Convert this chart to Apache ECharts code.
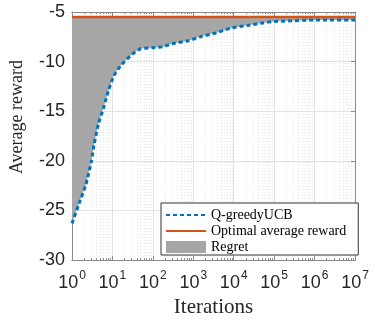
<!DOCTYPE html>
<html>
<head>
<meta charset="utf-8">
<script src="https://cdn.jsdelivr.net/npm/echarts@6/dist/echarts.min.js"></script>
<style>
  html, body { margin: 0; padding: 0; background: #fff; }
  #chart { width: 382px; height: 323px; }
</style>
</head>
<body>
<div id="chart"></div>
<script>
// data
var iterations = [1, 1.5, 2.2, 3, 3.5, 4.5, 6, 8, 11, 17, 30, 50, 100, 180, 300, 750, 1500, 3700, 9000, 22000, 53000, 1e5, 2.2e5, 1e6, 1e7];
var avgReward = [-26.3, -24.3, -22.4, -20.1, -18.4, -16.3, -14.7, -12.9, -11.4, -10.3, -9.3, -8.7, -8.6, -8.5, -8.2, -7.9, -7.5, -7.1, -6.6, -6.35, -6.1, -5.95, -5.9, -5.8, -5.8];
var optimalReward = -5.5;
var majorTicks = [1, 10, 100, 1e3, 1e4, 1e5, 1e6, 1e7];
var minorTicks = [];
for (var k = 0; k < 7; k++) {
  for (var m = 2; m <= 9; m++) minorTicks.push(m * Math.pow(10, k));
}

var serif = "Liberation Serif";
var sans = "Liberation Sans";

var curve = iterations.map(function (x, i) { return [x, avgReward[i]]; });
var optimal = iterations.map(function (x) { return [x, optimalReward]; });

var chart = echarts.init(document.getElementById("chart"));

function xAxisCfg(pos, ticks, len, labels, split) {
  return {
    type: "log", logBase: 10, min: 1, max: 1e7, position: pos,
    axisLine: { show: true, lineStyle: { color: "#8a8a8a", width: 1 } },
    axisTick: { show: true, inside: true, length: len, customValues: ticks,
      lineStyle: { color: "#8a8a8a" } },
    axisLabel: labels ? {
      show: true, margin: 6, customValues: majorTicks,
      formatter: function (v) { return "{b|10}{s|" + Math.round(Math.log10(v)) + "}"; },
      rich: {
        b: { fontSize: 18, fontFamily: sans, color: "#262626", lineHeight: 26, verticalAlign: "bottom" },
        s: { fontSize: 12, fontFamily: sans, color: "#262626", lineHeight: 12, verticalAlign: "top", padding: [4, 0, 0, 1] }
      }
    } : { show: false },
    splitLine: split || { show: false },
    minorTick: { show: false },
    name: labels ? "Iterations" : "",
    nameLocation: "middle", nameGap: 33,
    nameTextStyle: { fontFamily: serif, fontSize: 21, color: "#262626" }
  };
}

var option = {
  animation: false,
  grid: { left: 53, right: 27, top: 12, bottom: 54 },
  xAxis: [
    xAxisCfg("bottom", majorTicks, 4, true,
      { show: true, lineStyle: { color: "#e2e2e2", width: 1 } }),
    xAxisCfg("bottom", minorTicks, 2, false,
      { show: true, lineStyle: { color: "#e4e4e4", width: 1, type: [1, 2] } }),
    xAxisCfg("top", majorTicks, 4, false),
    xAxisCfg("top", minorTicks, 2, false)
  ],
  yAxis: [
    {
      type: "value", min: -30, max: -5, interval: 5, position: "left",
      axisLine: { show: true, lineStyle: { color: "#8a8a8a" } },
      axisTick: { show: true, inside: true, length: 4, lineStyle: { color: "#8a8a8a" } },
      axisLabel: { fontSize: 18, fontFamily: sans, color: "#262626", margin: 7 },
      splitLine: { show: true, lineStyle: { color: "#e2e2e2" } },
      name: "Average reward", nameLocation: "middle", nameGap: 46,
      nameTextStyle: { fontFamily: serif, fontSize: 18, color: "#262626", padding: [0, 0, 0, 38] }
    },
    {
      type: "value", min: -30, max: -5, interval: 5, position: "right",
      axisLine: { show: true, lineStyle: { color: "#8a8a8a" } },
      axisTick: { show: true, inside: true, length: 4, lineStyle: { color: "#8a8a8a" } },
      axisLabel: { show: false },
      splitLine: { show: false }
    }
  ],
  legend: {
    orient: "vertical", left: 161, top: 203,
    backgroundColor: "#fff", borderColor: "#333", borderWidth: 1,
    padding: [4, 12, 0, 4], itemGap: 0, itemWidth: 40, itemHeight: 12,
    textStyle: { fontFamily: serif, fontSize: 14, lineHeight: 16, color: "#000" },
    data: [
      { name: "Q-greedyUCB", itemStyle: { opacity: 0 } },
      { name: "Optimal average reward", itemStyle: { opacity: 0 } },
      { name: "Regret", icon: "rect" }
    ]
  },
  series: [
    {
      name: "Regret", type: "line", data: curve, symbol: "none", smooth: 0.2,
      lineStyle: { width: 0 },
      itemStyle: { color: "#a6a6a6" },
      areaStyle: { color: "#a6a6a6", opacity: 1, origin: optimalReward }
    },
    {
      name: "Q-greedyUCB", type: "line", data: curve, symbol: "none", smooth: 0.2,
      itemStyle: { color: "#0072bd" },
      lineStyle: { color: "#0072bd", width: 3, type: [4, 3] }
    },
    {
      name: "Optimal average reward", type: "line", data: optimal, symbol: "none",
      itemStyle: { color: "#d95319" },
      lineStyle: { color: "#d95319", width: 2.5 }
    }
  ]
};
chart.setOption(option);
</script>
</body>
</html>
